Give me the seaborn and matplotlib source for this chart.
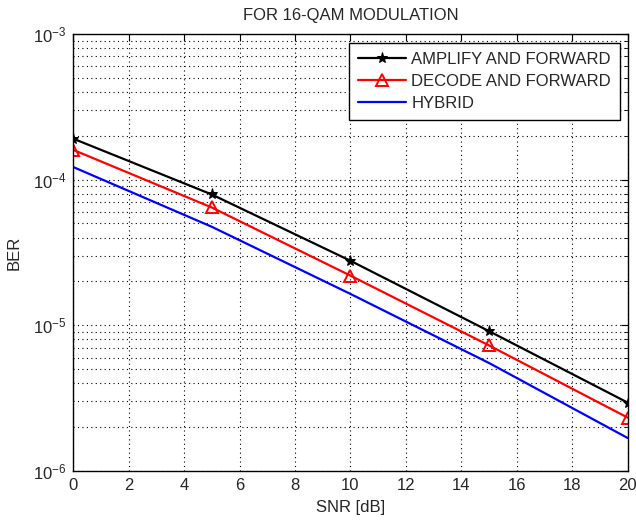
import matplotlib
matplotlib.use("Agg")
import matplotlib.pyplot as plt
import seaborn as sns
import pandas as pd
import numpy as np
from matplotlib.ticker import LogLocator, NullFormatter, MultipleLocator

snr = [0, 5, 10, 15, 20]
ber_af = [1.91e-4, 7.9e-5, 2.77e-5, 9.1e-6, 2.94e-6]
ber_df = [1.60e-4, 6.43e-5, 2.19e-5, 7.26e-6, 2.32e-6]
ber_hybrid = [1.22e-4, 4.74e-5, 1.64e-5, 5.5e-6, 1.68e-6]
labels = ["AMPLIFY AND FORWARD", "DECODE AND FORWARD", "HYBRID"]

sns.set_style("white")
plt.rcParams['font.family'] = ['Liberation Sans', 'DejaVu Sans']
plt.rcParams['mathtext.fontset'] = 'custom'
plt.rcParams['mathtext.rm'] = 'Liberation Sans'
plt.rcParams['mathtext.it'] = 'Liberation Sans'

fig = plt.figure(figsize=(6.36, 5.22), dpi=100)
ax = fig.add_axes([0.115, 0.098, 0.872, 0.837])

df_af = pd.DataFrame({"snr": snr, "ber": ber_af})
df_df = pd.DataFrame({"snr": snr, "ber": ber_df})
df_hy = pd.DataFrame({"snr": snr, "ber": ber_hybrid})

sns.lineplot(data=df_af, x="snr", y="ber", ax=ax, color="black", lw=1.6,
             marker="*", markersize=8, markeredgecolor="black", label=labels[0])
sns.lineplot(data=df_df, x="snr", y="ber", ax=ax, color="#ff0000", lw=1.6,
             marker="^", markersize=9, markerfacecolor="none",
             markeredgecolor="#ff0000", markeredgewidth=1.4, label=labels[1])
sns.lineplot(data=df_hy, x="snr", y="ber", ax=ax, color="#0000ff", lw=1.6,
             label=labels[2])

ax.set_yscale("log")
ax.set_xlim(0, 20)
ax.set_ylim(1e-6, 1e-3)
ax.xaxis.set_major_locator(MultipleLocator(2))
ax.yaxis.set_major_locator(LogLocator(base=10, numticks=10))
ax.yaxis.set_minor_locator(LogLocator(base=10, subs=np.arange(2, 10), numticks=20))
ax.yaxis.set_minor_formatter(NullFormatter())

ax.grid(True, which="major", color="black", linestyle=(0, (1, 3)), linewidth=0.8)
ax.grid(True, which="minor", axis="y", color="black", linestyle=(0, (1, 3)), linewidth=0.8)

ax.tick_params(which="both", direction="in", top=True, right=True,
               labelsize=12, color="black", length=5, pad=5)
ax.tick_params(which="minor", length=3)
for s in ax.spines.values():
    s.set_color("black")
    s.set_linewidth(1.0)

ax.set_title("FOR 16-QAM MODULATION", fontsize=12, pad=10)
ax.set_xlabel("SNR [dB]", fontsize=12, labelpad=5)
ax.set_ylabel("BER", fontsize=12, labelpad=8)

leg = ax.legend(loc="upper right", bbox_to_anchor=(0.9865, 0.979), fontsize=12,
                frameon=True, fancybox=False, edgecolor="black",
                handlelength=2.9, borderpad=0.55, labelspacing=0.42,
                handletextpad=0.3, borderaxespad=0)
leg.get_frame().set_linewidth(1.0)
leg.get_frame().set_alpha(1)

fig.savefig("out.png", dpi=100)
